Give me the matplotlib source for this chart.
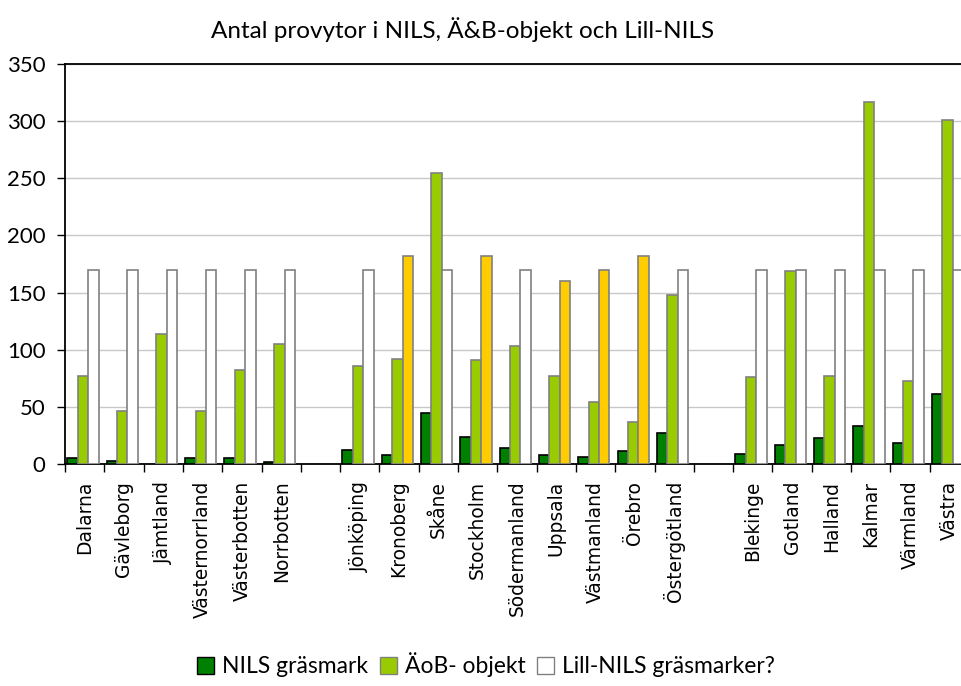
import numpy as np
import matplotlib
matplotlib.use("Agg")
import matplotlib.pyplot as plt
from matplotlib.patches import Patch

# regions, '' = empty slot between the groups
regions = ['Dalarna', 'Gävleborg', 'Jämtland', 'Västernorrland', 'Västerbotten', 'Norrbotten', '',
           'Jönköping', 'Kronoberg', 'Skåne', 'Stockholm', 'Södermanland', 'Uppsala',
           'Västmanland', 'Örebro', 'Östergötland', '',
           'Blekinge', 'Gotland', 'Halland', 'Kalmar', 'Värmland', 'Västra']

nils = [5, 3, 0, 5, 5, 2, 0,
        12, 8, 45, 24, 14, 8, 6, 11, 27, 0,
        9, 17, 23, 33, 18, 61]
aob = [77, 46, 114, 46, 82, 105, 0,
       86, 92, 255, 91, 103, 77, 54, 37, 148, 0,
       76, 169, 77, 317, 73, 301]
lillnils = [170, 170, 170, 170, 170, 170, 0,
            170, 182, 170, 182, 170, 160, 170, 182, 170, 0,
            170, 170, 170, 170, 170, 170]
# bars in the third series drawn in yellow
highlight = ['Kronoberg', 'Stockholm', 'Uppsala', 'Västmanland', 'Örebro']

dark_green = '#008000'
light_green = '#99CC00'
yellow = '#FFCC00'

plt.rcParams['font.family'] = ['Lato', 'DejaVu Sans']

fig = plt.figure(figsize=(9.62, 6.86), dpi=100)
W, H = 962, 686
ax = fig.add_axes([65 / W, (H - 464) / H, 904 / W, 400 / H])

x = np.arange(len(regions))
bw = 0.265
third_colors = [yellow if r in highlight else 'white' for r in regions]


def bars(offset, vals, colors, edge):
    # skip zero values so no flat outline is drawn on the axis
    vals = np.array(vals, dtype=float)
    keep = vals > 0
    cols = np.array(colors, dtype=object)[keep] if isinstance(colors, list) else colors
    ax.bar(x[keep] + offset, vals[keep], bw, color=cols, edgecolor=edge,
           linewidth=1.2, zorder=3)


bars(0.19, nils, dark_green, 'black')
bars(0.455, aob, light_green, '#808080')
bars(0.72, lillnils, third_colors, '#808080')

ax.set_xlim(0, len(regions))
ax.set_ylim(0, 350)
ax.set_yticks(range(0, 351, 50))
ax.yaxis.grid(True, color='#C8C8C8', linewidth=1, zorder=0)
ax.set_axisbelow(True)

ax.set_xticks(np.arange(len(regions) + 1))
ax.set_xticklabels([])
ax.set_xticks(x + 0.5, minor=True)
ax.set_xticklabels(regions, minor=True, rotation=90, family='DejaVu Sans', fontsize=13.4)
ax.tick_params(axis='x', which='major', length=6, width=1, direction='out')
ax.tick_params(axis='x', which='minor', length=0, pad=12)
ax.tick_params(axis='y', length=6, width=1, pad=8, labelsize=16)

for s in ['left', 'bottom', 'top']:
    ax.spines[s].set_color('black')
    ax.spines[s].set_linewidth(1.3)
ax.spines['right'].set_visible(False)

fig.text(463 / W, 1 - 30 / H, 'Antal provytor i NILS, Ä&B-objekt och Lill-NILS',
         ha='center', va='center', fontsize=17.5)

handles = [Patch(facecolor=dark_green, edgecolor='black', label='NILS gräsmark'),
           Patch(facecolor=light_green, edgecolor='#808080', label='ÄoB- objekt'),
           Patch(facecolor='white', edgecolor='#808080', label='Lill-NILS gräsmarker?')]
fig.legend(handles=handles, loc='center', bbox_to_anchor=(486 / W, 1 - 665 / H), ncol=3,
           frameon=False, fontsize=16.5, handlelength=0.75, handleheight=0.75,
           handletextpad=0.35, columnspacing=0.5)

fig.savefig('out.png', dpi=100)
